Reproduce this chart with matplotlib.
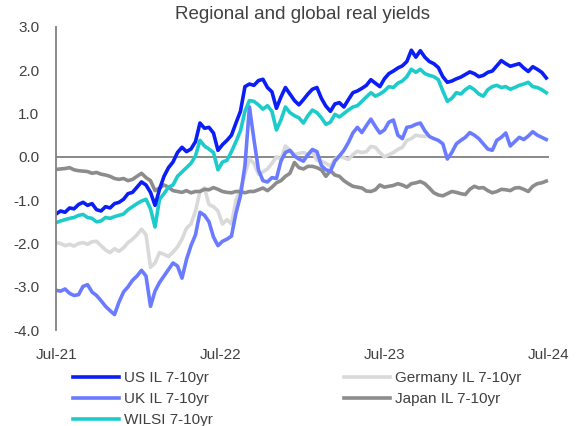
import numpy as np, pandas as pd
import matplotlib; matplotlib.use('Agg')
import matplotlib.pyplot as plt
import matplotlib.dates as mdates

plt.rcParams['font.family'] = ['Liberation Sans', 'DejaVu Sans']

# 10-day samples, Jul-21 .. Jul-24
dates = pd.date_range('2021-07-01', periods=110, freq='10D')

us = [-1.32,-1.25,-1.28,-1.18,-1.20,-1.10,-1.05,-1.12,-1.08,-1.22,
      -1.25,-1.15,-1.18,-1.08,-1.05,-0.98,-0.85,-0.82,-0.70,-0.58,
      -0.65,-0.82,-1.12,-0.75,-0.45,-0.25,-0.12,0.10,0.22,0.12,
      0.18,0.35,0.78,0.66,0.68,0.55,0.15,0.28,0.38,0.50,
      0.78,1.05,1.62,1.68,1.65,1.76,1.79,1.60,1.50,1.12,
      1.38,1.60,1.45,1.30,1.20,1.32,1.45,1.56,1.60,1.35,
      1.17,1.05,1.22,1.25,1.15,1.32,1.48,1.52,1.58,1.65,
      1.78,1.70,1.62,1.80,1.92,1.98,2.05,2.10,2.20,2.46,
      2.30,2.45,2.30,2.20,2.15,2.06,1.85,1.72,1.75,1.80,
      1.84,1.90,1.96,1.92,1.85,1.88,1.95,1.98,2.10,2.22,
      2.15,2.09,2.12,2.15,2.05,1.97,2.08,2.02,1.95,1.82]

uk = [-3.08,-3.10,-3.05,-3.15,-3.20,-3.18,-2.99,-2.95,-3.12,-3.20,
      -3.32,-3.45,-3.55,-3.64,-3.35,-3.12,-3.00,-2.85,-2.75,-2.62,
      -2.75,-3.45,-3.10,-2.90,-2.75,-2.60,-2.45,-2.52,-2.80,-2.37,
      -2.05,-1.80,-1.28,-1.35,-1.50,-1.85,-2.05,-1.95,-1.90,-1.83,
      -1.30,-0.90,-0.20,1.15,0.40,-0.30,-0.55,-0.58,-0.48,-0.50,
      -0.10,0.10,0.15,0.02,-0.05,-0.10,0.05,0.17,0.12,-0.20,
      -0.30,-0.33,-0.10,0.02,0.15,0.33,0.55,0.68,0.56,0.72,
      0.87,0.70,0.55,0.62,0.80,0.85,0.50,0.42,0.68,0.70,
      0.75,0.78,0.60,0.47,0.42,0.38,0.30,-0.05,0.10,0.30,
      0.38,0.45,0.56,0.50,0.42,0.30,0.18,0.15,0.38,0.45,
      0.55,0.25,0.35,0.45,0.40,0.48,0.58,0.50,0.45,0.40]

wilsi = [-1.52,-1.48,-1.45,-1.42,-1.40,-1.35,-1.33,-1.40,-1.42,-1.50,
         -1.48,-1.40,-1.42,-1.38,-1.35,-1.32,-1.22,-1.15,-1.08,-1.02,
         -0.98,-1.20,-1.62,-0.98,-0.85,-0.70,-0.65,-0.45,-0.35,-0.25,
         -0.15,0.02,0.38,0.25,0.18,0.10,-0.30,-0.12,-0.08,0.12,
         0.35,0.60,1.05,1.30,1.28,1.20,1.10,1.18,1.05,0.62,
         0.85,1.15,1.02,0.95,0.90,0.78,0.95,1.08,1.02,0.90,
         0.75,0.80,0.98,0.92,1.00,1.08,1.15,1.18,1.28,1.38,
         1.48,1.40,1.45,1.52,1.62,1.60,1.70,1.75,1.85,2.02,
         1.95,2.02,1.92,1.88,1.85,1.78,1.52,1.28,1.35,1.48,
         1.45,1.55,1.62,1.55,1.45,1.40,1.55,1.62,1.65,1.60,
         1.62,1.56,1.60,1.65,1.68,1.72,1.62,1.60,1.55,1.48]

germany = [-1.98,-2.00,-2.05,-2.02,-2.06,-2.00,-1.98,-2.02,-1.96,-1.95,
           -2.05,-2.15,-2.21,-2.12,-2.18,-2.10,-1.98,-1.90,-1.80,-1.67,
           -1.80,-2.55,-2.45,-2.21,-2.25,-2.30,-2.20,-2.08,-1.90,-1.65,
           -1.55,-1.25,-0.80,-0.72,-1.10,-1.15,-1.25,-1.55,-1.45,-1.55,
           -1.00,-0.75,-0.40,-0.05,-0.15,-0.40,-0.35,-0.28,-0.15,0.00,
           -0.05,0.25,0.15,0.05,0.08,0.10,0.05,0.12,-0.08,-0.10,
           -0.15,-0.22,-0.05,0.02,-0.02,-0.06,0.05,0.13,0.10,0.12,
           0.24,0.22,0.10,0.00,0.05,0.10,0.17,0.22,0.38,0.42,
           0.50,0.48,0.47]

japan = [-0.29,-0.28,-0.27,-0.25,-0.30,-0.32,-0.33,-0.34,-0.38,-0.36,
         -0.40,-0.42,-0.45,-0.50,-0.52,-0.50,-0.55,-0.52,-0.45,-0.38,
         -0.48,-0.55,-0.78,-0.72,-0.65,-0.70,-0.78,-0.80,-0.82,-0.78,
         -0.83,-0.80,-0.80,-0.75,-0.76,-0.71,-0.75,-0.80,-0.82,-0.83,
         -0.80,-0.80,-0.83,-0.80,-0.80,-0.76,-0.72,-0.78,-0.70,-0.60,
         -0.55,-0.45,-0.38,-0.13,-0.25,-0.28,-0.22,-0.22,-0.25,-0.30,
         -0.45,-0.32,-0.42,-0.45,-0.55,-0.62,-0.68,-0.70,-0.72,-0.79,
         -0.80,-0.76,-0.65,-0.70,-0.68,-0.66,-0.62,-0.65,-0.70,-0.62,
         -0.60,-0.57,-0.62,-0.72,-0.83,-0.88,-0.90,-0.85,-0.80,-0.82,
         -0.85,-0.87,-0.75,-0.68,-0.72,-0.71,-0.78,-0.83,-0.80,-0.75,
         -0.76,-0.78,-0.72,-0.71,-0.75,-0.80,-0.68,-0.62,-0.60,-0.56]

yticks = [3, 2, 1, 0, -1, -2, -3, -4]
xticks = ['2021-07-01', '2022-07-01', '2023-07-01', '2024-07-01']

fig = plt.figure(figsize=(5.84, 4.26), dpi=100)
ax = fig.add_axes([0.096, 0.225, 0.844, 0.712])
ax.axhline(0, color='#808080', lw=1.3, zorder=1)
lw = 2.6
l_de, = ax.plot(dates[:len(germany)], germany, color='#D9D9D9', lw=lw, label='Germany IL 7-10yr')
l_jp, = ax.plot(dates, japan, color='#8C8C8C', lw=lw, label='Japan IL 7-10yr')
l_uk, = ax.plot(dates, uk, color='#6B7BFF', lw=lw, label='UK IL 7-10yr')
l_wi, = ax.plot(dates, wilsi, color='#1ECBCB', lw=lw, label='WILSI 7-10yr')
l_us, = ax.plot(dates, us, color='#0A1EF5', lw=lw, label='US IL 7-10yr')

ax.set_ylim(-4, 3)
ax.set_xlim(pd.Timestamp('2021-07-01'), pd.Timestamp('2024-07-01'))
ax.set_yticks(yticks)
ax.yaxis.set_major_formatter(matplotlib.ticker.FormatStrFormatter('%.1f'))
ax.set_xticks(pd.to_datetime(xticks))
ax.xaxis.set_major_formatter(mdates.DateFormatter('%b-%y'))
ax.tick_params(axis='both', length=0, labelsize=11, colors='#404040')
ax.tick_params(axis='y', pad=12)
ax.tick_params(axis='x', pad=13)
for s in ['top', 'right', 'bottom']:
    ax.spines[s].set_visible(False)
ax.spines['left'].set_color('#808080')
ax.spines['left'].set_linewidth(1.3)
ax.set_title('Regional and global real yields', fontsize=13.5, color='#404040', pad=6)

fig.legend(handles=[l_us, l_uk, l_wi, l_de, l_jp], ncol=2, loc='upper left',
           bbox_to_anchor=(0.125, 0.128), frameon=False, fontsize=11,
           handlelength=3.0, handletextpad=0.35, columnspacing=8.55, labelspacing=0.45,
           borderaxespad=0, borderpad=0, labelcolor='#404040')
fig.savefig('out.png', dpi=100)
